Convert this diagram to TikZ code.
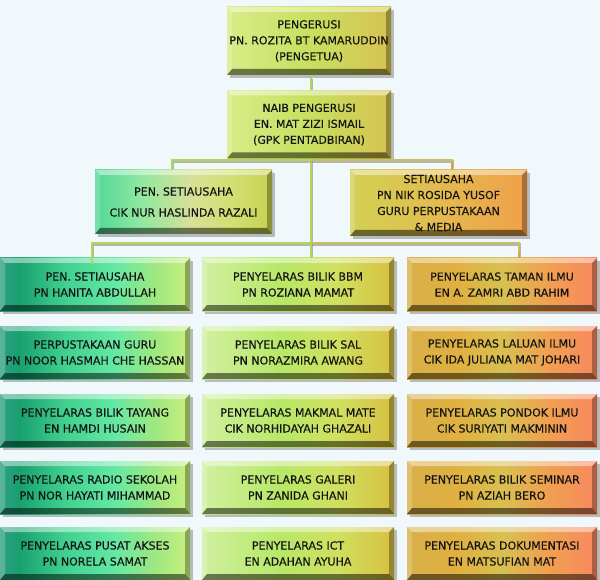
\documentclass[tikz,border=0pt]{standalone}
\usepackage{fontspec}
\setmainfont{DejaVu Sans}[FakeBold=0.35]
\usetikzlibrary{shadows,calc}
\definecolor{bg}{HTML}{F0F8FB}
% top boxes
\definecolor{ta}{HTML}{D8EC88}\definecolor{tb}{HTML}{C8E060}\definecolor{tc}{HTML}{D6C250}
% mid left
\definecolor{la}{HTML}{50D898}\definecolor{lb}{HTML}{90E8A0}\definecolor{lc}{HTML}{D8E098}\definecolor{ld}{HTML}{D0E070}\definecolor{le}{HTML}{C8D050}
% mid right
\definecolor{ra}{HTML}{D2D052}\definecolor{rb}{HTML}{E0C050}\definecolor{rc}{HTML}{F0A048}
% column 1
\definecolor{ca}{HTML}{30A080}\definecolor{cb}{HTML}{18A070}\definecolor{cc}{HTML}{40D090}\definecolor{cd}{HTML}{64E8A4}\definecolor{ce}{HTML}{A0E880}\definecolor{cf}{HTML}{C8F080}
% column 2
\definecolor{ma}{HTML}{D0F0A0}\definecolor{mb}{HTML}{B8E868}\definecolor{mc}{HTML}{D0E060}\definecolor{md}{HTML}{D8C040}
% column 3
\definecolor{oa}{HTML}{D8B048}\definecolor{ob}{HTML}{E0B040}\definecolor{oc}{HTML}{D8C050}\definecolor{od}{HTML}{F0A050}\definecolor{oe}{HTML}{F88860}
\definecolor{lnG}{HTML}{B0D858}\definecolor{lnY}{HTML}{C8C060}\definecolor{lnO}{HTML}{D0A848}\definecolor{lnT}{HTML}{40B878}
\definecolor{lnS}{HTML}{8A8A78}
\pgfdeclarehorizontalshading{topsh}{100bp}{color(0bp)=(ta); color(25bp)=(ta); color(50bp)=(tb); color(75bp)=(tc); color(100bp)=(tc)}
\pgfdeclarehorizontalshading{plsh}{100bp}{color(0bp)=(la); color(25bp)=(la); color(38bp)=(lb); color(52bp)=(lc); color(64bp)=(ld); color(75bp)=(le); color(100bp)=(le)}
\pgfdeclarehorizontalshading{prsh}{100bp}{color(0bp)=(ra); color(25bp)=(ra); color(45bp)=(rb); color(75bp)=(rc); color(100bp)=(rc)}
\pgfdeclarehorizontalshading{c1sh}{100bp}{color(0bp)=(ca); color(25bp)=(ca); color(30bp)=(cb); color(42bp)=(cc); color(55bp)=(cd); color(66bp)=(ce); color(75bp)=(cf); color(100bp)=(cf)}
\pgfdeclarehorizontalshading{c2sh}{100bp}{color(0bp)=(ma); color(25bp)=(ma); color(45bp)=(mb); color(60bp)=(mc); color(75bp)=(md); color(100bp)=(md)}
\pgfdeclarehorizontalshading{c3sh}{100bp}{color(0bp)=(oa); color(25bp)=(oa); color(38bp)=(ob); color(50bp)=(oc); color(62bp)=(od); color(75bp)=(oe); color(100bp)=(oe)}
\tikzset{
  bevel/.style={path picture={
    \coordinate (pw) at (path picture bounding box.north west);
    \coordinate (pe) at (path picture bounding box.south east);
    \coordinate (pNE) at (pe |- pw);
    \coordinate (pSW) at (pw |- pe);
    \fill[white,opacity=.45] (pw) -- (pNE) -- ([shift={(-5pt,-5pt)}]pNE) -- ([shift={(5pt,-5pt)}]pw) -- cycle;
    \fill[white,opacity=.2] (pw) -- (pSW) -- ([shift={(5pt,6pt)}]pSW) -- ([shift={(5pt,-5pt)}]pw) -- cycle;
    \fill[black,opacity=.3] (pNE) -- (pe) -- ([shift={(-5pt,6pt)}]pe) -- ([shift={(-5pt,-5pt)}]pNE) -- cycle;
    \fill[black,opacity=.5] (pSW) -- (pe) -- ([shift={(-5pt,6pt)}]pe) -- ([shift={(5pt,6pt)}]pSW) -- cycle;
  }},
  box/.style={rectangle, inner sep=0pt, align=center, text=black!92,
    font=\fontsize{11}{16}\selectfont,
    drop shadow={shadow xshift=3pt, shadow yshift=-3pt, opacity=.35, fill=black!70},
    bevel},
  topbox/.style={box, shading=topsh, minimum width=164pt, minimum height=68pt},
  plbox/.style={box, shading=plsh, minimum width=177pt, minimum height=64pt},
  prbox/.style={box, shading=prsh, minimum width=177pt, minimum height=66pt},
  cA/.style={box, shading=c1sh, minimum width=190pt, minimum height=53pt},
  cB/.style={box, shading=c2sh, minimum width=192pt, minimum height=53pt},
  cC/.style={box, shading=c3sh, minimum width=190pt, minimum height=53pt},
  lshadow/.style={lnS, line width=2.5pt, opacity=.6},
  conn/.style={line width=2.5pt},
}
\begin{document}
\begin{tikzpicture}[x=1pt,y=-1pt]
\useasboundingbox (0,0) rectangle (600,580);
\fill[bg] (0,0) rectangle (600,580);

% coordinates for connectors
\coordinate (h1) at (311,160);
\coordinate (h2) at (311,243);
\coordinate (xa) at (172,0);
\coordinate (xb) at (452,0);
\coordinate (xc) at (92,0);
\coordinate (xd) at (519,0);

% connector shadows (drawn first so boxes cover their ends)
\begin{scope}[shift={(1.2pt,-1.5pt)}]
  \draw[lshadow] (311,78) -- (311,92);
  \draw[lshadow] (311,158) -- (311,260);
  \draw[lshadow] (172,172) |- (452,160) -- (452,172);
  \draw[lshadow] (92,260) |- (519,243) -- (519,260);
\end{scope}

\node[topbox] (top) at (309,41) {PENGERUSI\\PN. ROZITA BT KAMARUDDIN\\(PENGETUA)};
\node[topbox] (naib) at (309,124.5) {NAIB PENGERUSI\\EN. MAT ZIZI ISMAIL\\(GPK PENTADBIRAN)};
\node[plbox] (pL) at (183.5,202) {PEN. SETIAUSAHA\\[5pt]CIK NUR HASLINDA RAZALI};
\node[prbox] (pR) at (438.5,203) {SETIAUSAHA\\PN NIK ROSIDA YUSOF\\GURU PERPUSTAKAAN\\\& MEDIA};

\node[cA] (r11) at (95,284.5) {PEN. SETIAUSAHA\\PN HANITA ABDULLAH};
\node[cA] (r21) at (95,352.5) {PERPUSTAKAAN GURU\\PN NOOR HASMAH CHE HASSAN};
\node[cA] (r31) at (95,420.5) {PENYELARAS BILIK TAYANG\\EN HAMDI HUSAIN};
\node[cA] (r41) at (95,487.5) {PENYELARAS RADIO SEKOLAH\\PN NOR HAYATI MIHAMMAD};
\node[cA] (r51) at (95,553.5) {PENYELARAS PUSAT AKSES\\PN NORELA SAMAT};

\node[cB] (r12) at (298,284.5) {PENYELARAS BILIK BBM\\PN ROZIANA MAMAT};
\node[cB] (r22) at (298,352.5) {PENYELARAS BILIK SAL\\PN NORAZMIRA AWANG};
\node[cB] (r32) at (298,420.5) {PENYELARAS MAKMAL MATE\\CIK NORHIDAYAH GHAZALI};
\node[cB] (r42) at (298,487.5) {PENYELARAS GALERI\\PN ZANIDA GHANI};
\node[cB] (r52) at (298,553.5) {PENYELARAS ICT\\EN ADAHAN AYUHA};

\node[cC] (r13) at (502,284.5) {PENYELARAS TAMAN ILMU\\EN A. ZAMRI ABD RAHIM};
\node[cC] (r23) at (502,352.5) {PENYELARAS LALUAN ILMU\\CIK IDA JULIANA MAT JOHARI};
\node[cC] (r33) at (502,420.5) {PENYELARAS PONDOK ILMU\\CIK SURIYATI MAKMININ};
\node[cC] (r43) at (502,487.5) {PENYELARAS BILIK SEMINAR\\PN AZIAH BERO};
\node[cC] (r53) at (502,553.5) {PENYELARAS DOKUMENTASI\\EN MATSUFIAN MAT};

% connector lines
\draw[conn, lnG] ([yshift=-3pt]top.south -| h1) -- (naib.north -| h1);
\draw[conn, lnG] ([yshift=-3pt]naib.south -| h1) -- (r12.north -| h1);
\draw[conn, lnG] (pL.north -| xa) |- (h1);
\draw[conn, lnY] (h1) -| ([yshift=1pt]pR.north -| xb);
\draw[conn, lnO] ([yshift=8pt]pR.north -| xb) -- (pR.north -| xb);
\draw[conn, lnT] (r11.north -| xc) -- ([yshift=-6pt]r11.north -| xc);
\draw[conn, lnG] ([yshift=-6pt]r11.north -| xc) |- (h2);
\draw[conn, lnY] (h2) -| ([yshift=6pt]r13.north -| xd);
\draw[conn, lnO] ([yshift=6pt]r13.north -| xd) -- (r13.north -| xd);
\end{tikzpicture}
\end{document}
